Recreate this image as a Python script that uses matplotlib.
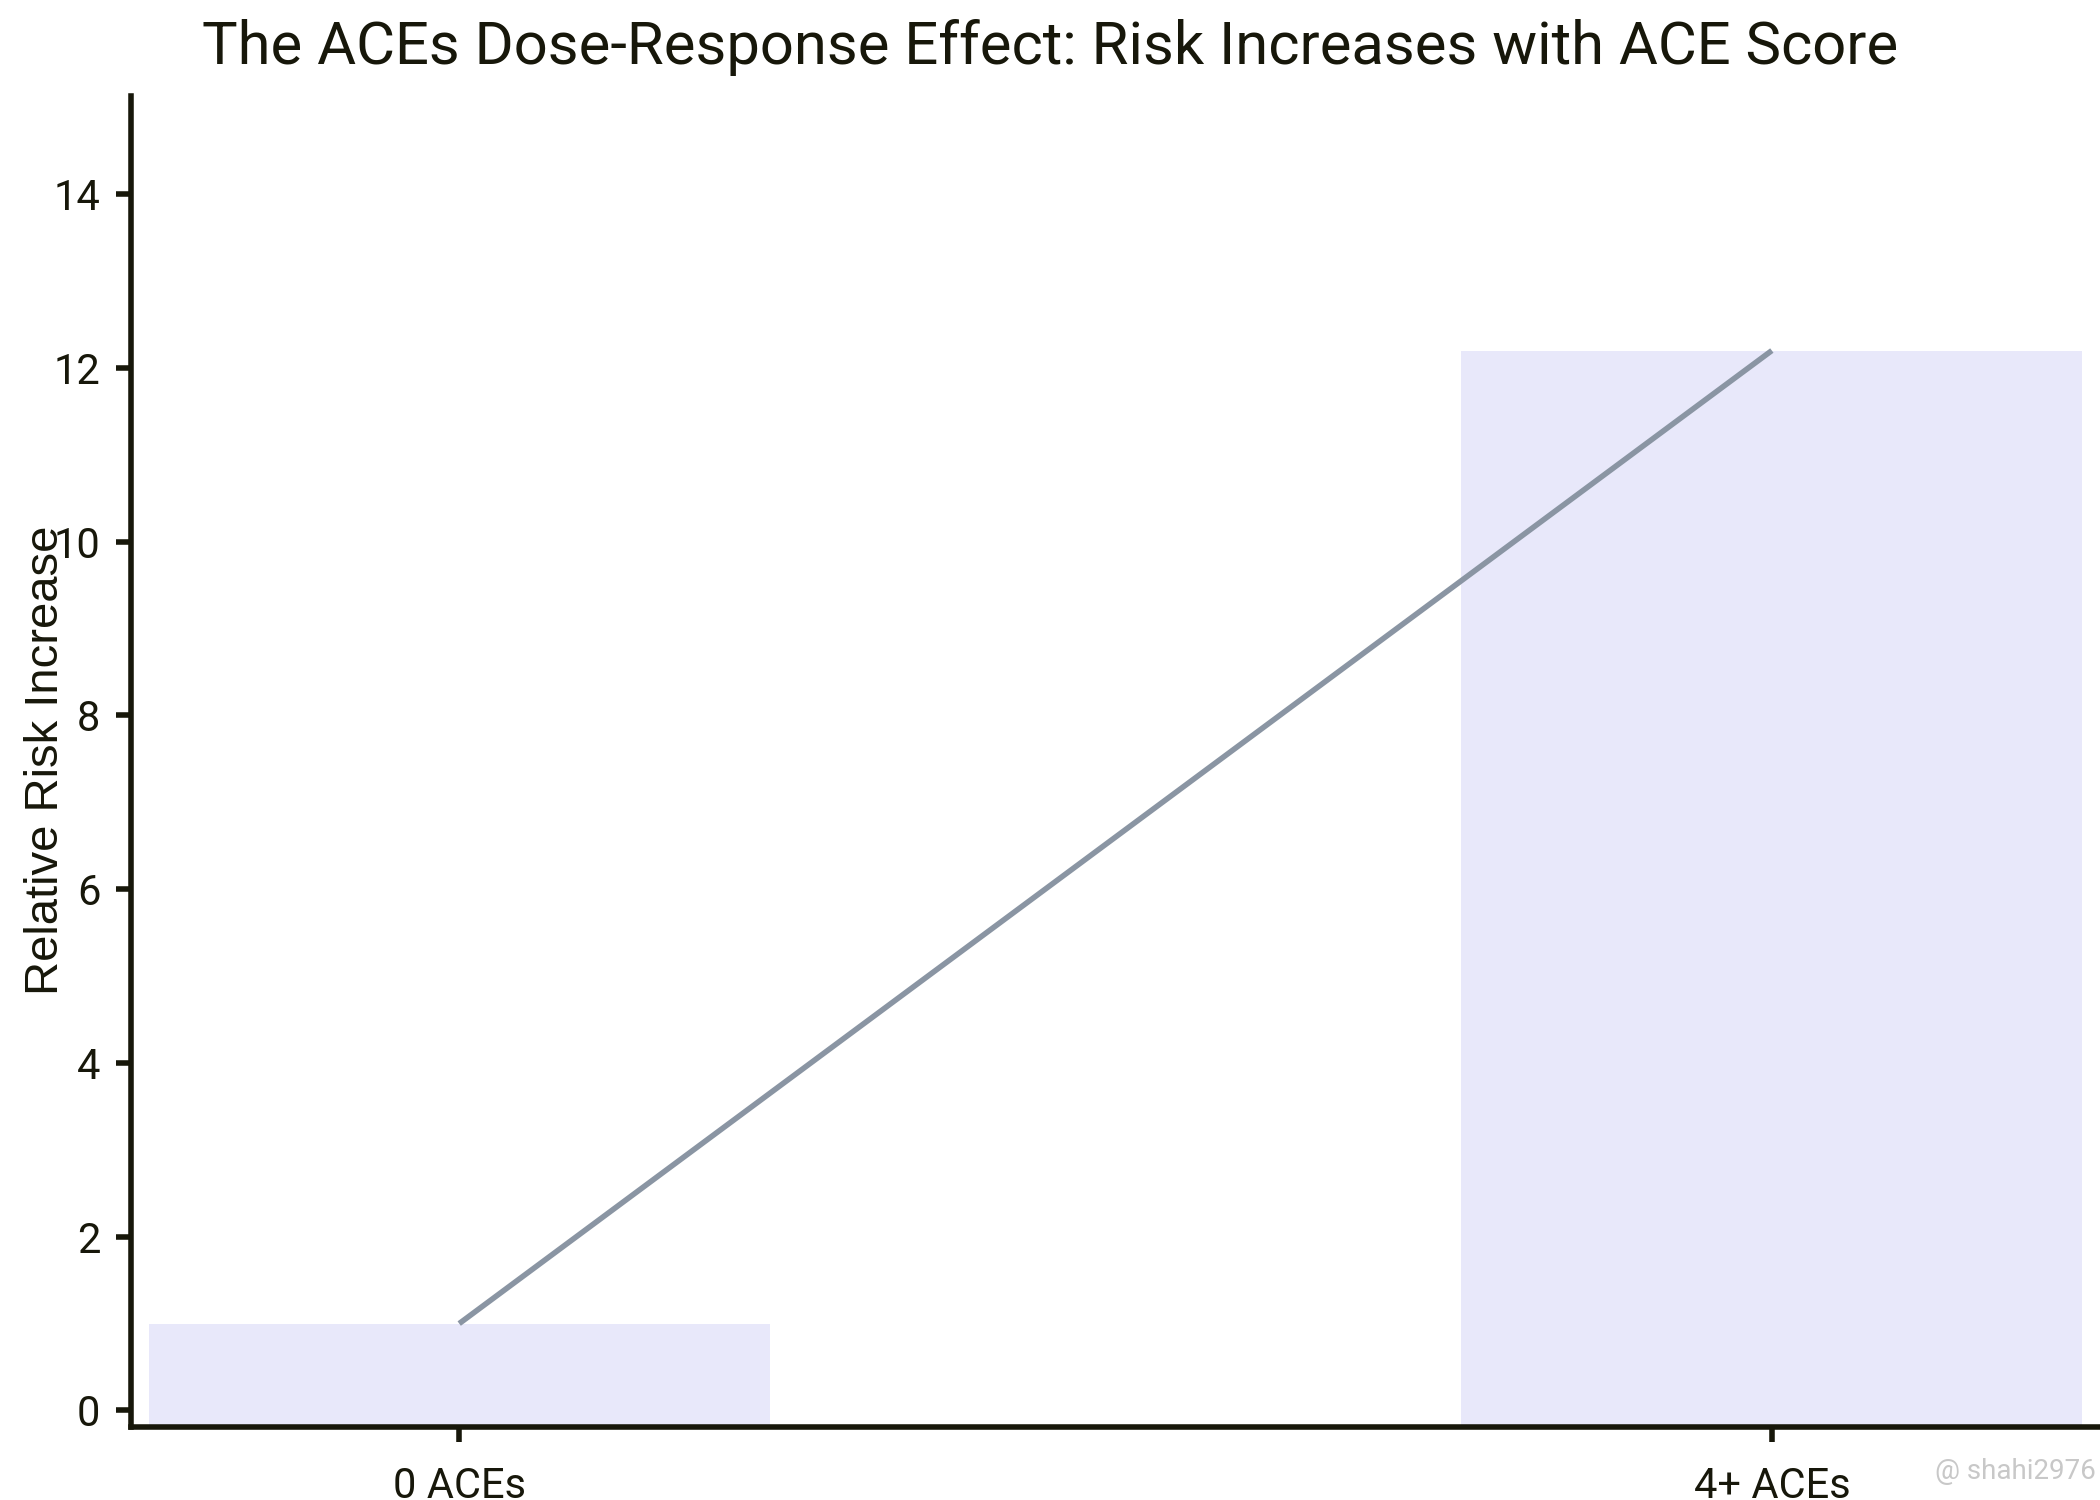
import matplotlib
matplotlib.use('Agg')
import matplotlib.pyplot as plt

categories = ['0 ACEs', '4+ ACEs']
risk = [1.0, 12.2]
y_ticks = [0, 2, 4, 6, 8, 10, 12, 14]

ink = '#17170a'
bar_color = '#e8e8fa'
line_color = '#8a95a3'

plt.rcParams['font.family'] = ['Roboto', 'DejaVu Sans']

fig = plt.figure(figsize=(21, 15), dpi=100)
ax = fig.add_axes([0.0624, 0.0487, 0.9376, 0.8873])

y_low, y_high = -0.19, 15.13
x_pos = list(range(len(categories)))

# bars start at the bottom of the axis, like the original
ax.bar(x_pos, [v - y_low for v in risk], bottom=y_low, width=0.473,
       color=bar_color, zorder=1)
ax.plot(x_pos, risk, color=line_color, linewidth=4, zorder=3,
        solid_capstyle='butt')

ax.set_xlim(-0.25, 1.25)
ax.set_ylim(y_low, y_high)
ax.set_xticks(x_pos)
ax.set_xticklabels(categories)
ax.set_yticks(y_ticks)

for s in ['top', 'right']:
    ax.spines[s].set_visible(False)
for s in ['left', 'bottom']:
    ax.spines[s].set_linewidth(4)
    ax.spines[s].set_color(ink)

ax.tick_params(axis='both', length=11, width=4, color=ink, labelcolor=ink,
               labelsize=30)
ax.tick_params(axis='y', pad=11)
ax.tick_params(axis='x', pad=17)

fig.text(0.022, 0.493, 'Relative Risk Increase', rotation=90,
         ha='center', va='center', fontsize=34, color=ink,
         family='Liberation Sans')

fig.text(0.5, 1 - 64 / 1500, 'The ACEs Dose-Response Effect: Risk Increases with ACE Score',
         ha='center', va='baseline', fontsize=43, color=ink)

fig.text(0.998, 0.01, '@ shahi2976', ha='right', va='bottom',
         fontsize=20, color='#c8c8c8')

fig.savefig('out.png', dpi=100)
